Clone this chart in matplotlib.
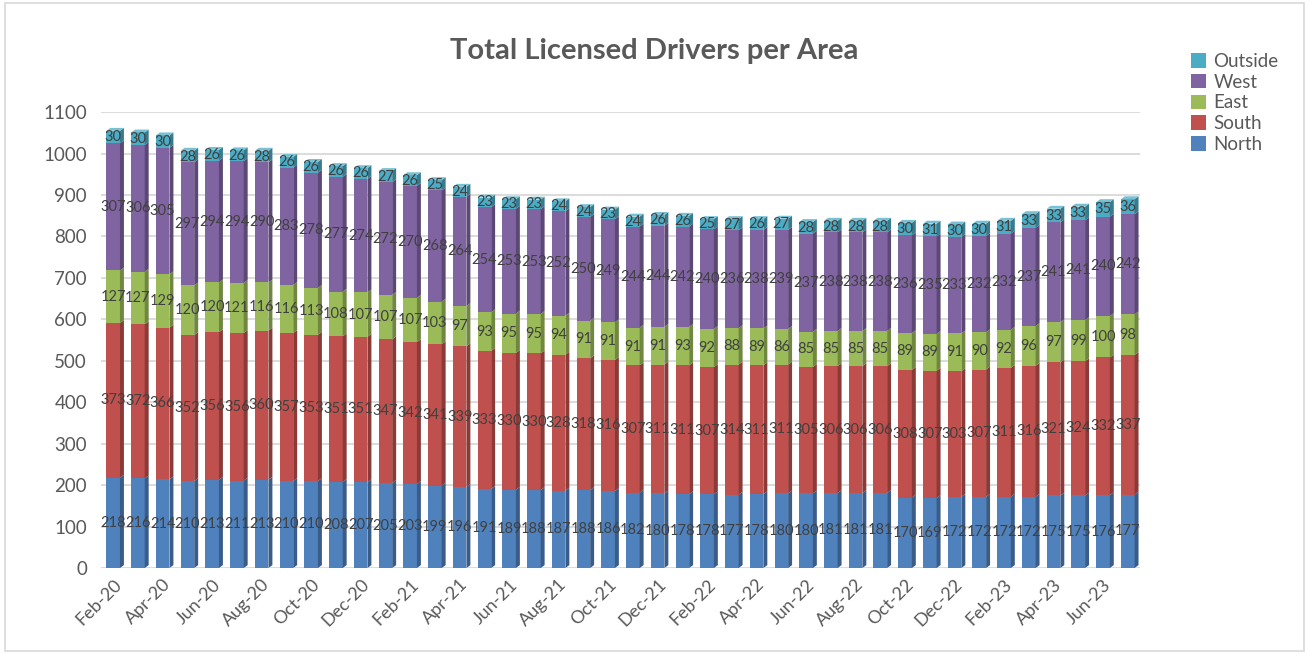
import numpy as np
import pandas as pd
import matplotlib.pyplot as plt
from matplotlib.collections import PolyCollection
from matplotlib.patches import Rectangle
from matplotlib.colors import to_rgb

plt.rcParams["font.family"] = ["Lato", "DejaVu Sans"]

MONTHS = pd.date_range("2020-02-01", periods=42, freq="MS").strftime("%b-%y").tolist()

NORTH = [218, 216, 214, 210, 213, 211, 213, 210, 210, 208,
         207, 205, 203, 199, 196, 191, 189, 188, 187, 188,
         186, 182, 180, 178, 178, 177, 178, 180, 180, 181,
         181, 181, 170, 169, 172, 172, 172, 172, 175, 175,
         176, 177]
SOUTH = [373, 372, 366, 352, 356, 356, 360, 357, 353, 351,
         351, 347, 342, 341, 339, 333, 330, 330, 328, 318,
         316, 307, 311, 311, 307, 314, 311, 311, 305, 306,
         306, 306, 308, 307, 303, 307, 311, 316, 321, 324,
         332, 337]
EAST = [127, 127, 129, 120, 120, 121, 116, 116, 113, 108,
        107, 107, 107, 103, 97, 93, 95, 95, 94, 91,
        91, 91, 91, 93, 92, 88, 89, 86, 85, 85,
        85, 85, 89, 89, 91, 90, 92, 96, 97, 99,
        100, 98]
WEST = [307, 306, 305, 297, 294, 294, 290, 283, 278, 277,
        274, 272, 270, 268, 264, 254, 253, 253, 252, 250,
        249, 244, 244, 242, 240, 236, 238, 239, 237, 238,
        238, 238, 236, 235, 233, 232, 232, 237, 241, 241,
        240, 242]
OUTSIDE = [30, 30, 30, 28, 26, 26, 28, 26, 26, 26,
           26, 27, 26, 25, 24, 23, 23, 23, 24, 24,
           23, 24, 26, 26, 25, 27, 26, 27, 28, 28,
           28, 28, 30, 31, 30, 30, 31, 33, 33, 33,
           35, 36]

SERIES = ["North", "South", "East", "West", "Outside"]
COLORS = ["#4F81BD", "#C0504D", "#9BBB59", "#8064A2", "#4BACC6"]
TXT = "#595959"


def shade(c, f):
    r, g, b = to_rgb(c)
    return (r * f, g * f, b * f)


def tint(c, f):
    r, g, b = to_rgb(c)
    return (r + (1 - r) * f, g + (1 - g) * f, b + (1 - b) * f)


fig = plt.figure(figsize=(13.09, 6.54), dpi=100)
fig.patches.append(Rectangle((0.004, 0.005), 0.992, 0.99, transform=fig.transFigure,
                             fill=False, edgecolor="#D9D9D9", lw=1.2))
ax = fig.add_axes([0.077, 0.1315, 0.794, 0.697])

x = np.arange(len(MONTHS))
w = 0.55
dx, dy = 0.16, 7  # fake 3d depth

data = np.array([NORTH, SOUTH, EAST, WEST, OUTSIDE], dtype=float)
bottom = np.zeros(len(x))

for vals, name, col in zip(data, SERIES, COLORS):
    ax.bar(x, vals, w, bottom=bottom, color=col, label=name, zorder=3, linewidth=0)
    sides = [[(xi + w / 2, b0), (xi + w / 2 + dx, b0 + dy),
              (xi + w / 2 + dx, b0 + v + dy), (xi + w / 2, b0 + v)]
             for xi, b0, v in zip(x, bottom, vals)]
    ax.add_collection(PolyCollection(sides, facecolors=shade(col, 0.72),
                                     edgecolors="none", zorder=3))
    for xi, b0, v in zip(x, bottom, vals):
        ax.text(xi, b0 + v / 2, f"{int(v)}", ha="center", va="center",
                fontsize=10.5, color="#404040", zorder=5)
    bottom = bottom + vals

tops = [[(xi - w / 2, t), (xi - w / 2 + dx, t + dy), (xi + w / 2 + dx, t + dy), (xi + w / 2, t)]
        for xi, t in zip(x, bottom)]
ax.add_collection(PolyCollection(tops, facecolors=tint(COLORS[-1], 0.25),
                                 edgecolors="none", zorder=3))

ax.set_xlim(-0.5, len(x) - 0.5)
ax.set_ylim(0, 1100)
ax.set_yticks(range(0, 1101, 100))
ax.set_xticks(x[::2])
ax.set_xticklabels(MONTHS[::2], rotation=45, ha="right", rotation_mode="anchor")
ax.tick_params(axis="x", labelsize=13, colors=TXT, length=0, pad=6)
ax.tick_params(axis="y", labelsize=13.5, colors=TXT, length=0, pad=10)
ax.grid(axis="y", color="#D9D9D9", lw=1.3, zorder=0)
for s in ax.spines.values():
    s.set_visible(False)

fig.text(0.5, 0.922, "Total Licensed Drivers per Area", ha="center", va="center",
         fontsize=21, fontweight="bold", color=TXT)

h, l = ax.get_legend_handles_labels()
fig.legend(h[::-1], l[::-1], loc="upper left", bbox_to_anchor=(0.897, 0.945),
           frameon=False, fontsize=13.5, handlelength=0.8, handleheight=0.8,
           handletextpad=0.4, labelspacing=0.2, labelcolor=TXT)

fig.savefig("out.png", dpi=100)
